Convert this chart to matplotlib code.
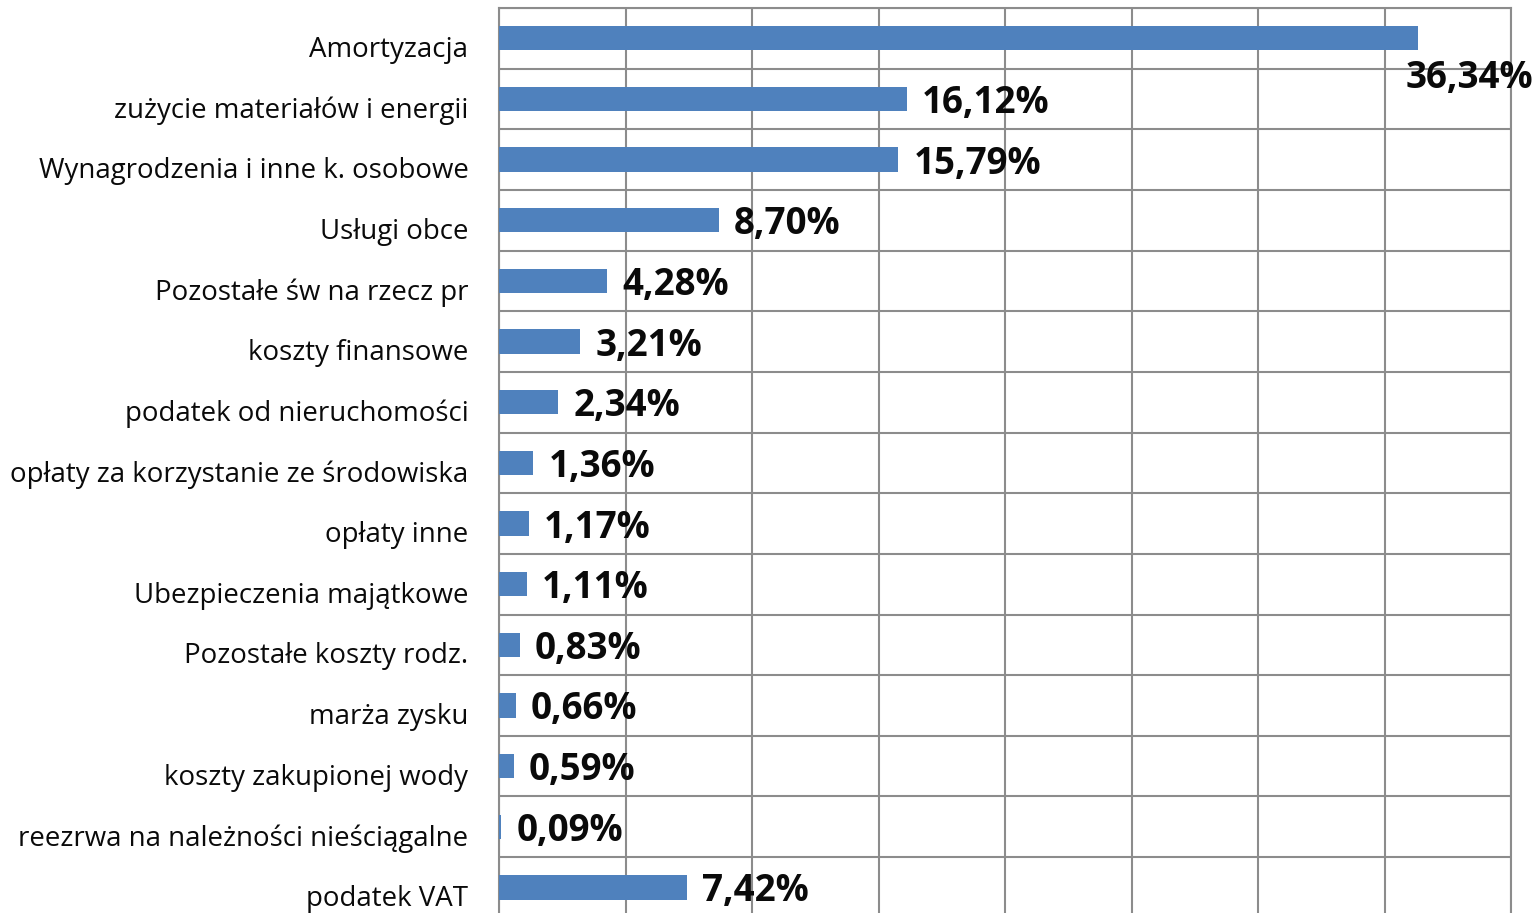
import matplotlib
matplotlib.use("Agg")
import matplotlib.pyplot as plt
import matplotlib.transforms as mtransforms
import numpy as np

categories = [
    "Amortyzacja",
    "zużycie materiałów i energii",
    "Wynagrodzenia i inne k. osobowe",
    "Usługi obce",
    "Pozostałe św na rzecz pr",
    "koszty finansowe",
    "podatek od nieruchomości",
    "opłaty za korzystanie ze środowiska",
    "opłaty inne",
    "Ubezpieczenia majątkowe",
    "Pozostałe koszty rodz.",
    "marża zysku",
    "koszty zakupionej wody",
    "reezrwa na należności nieściągalne",
    "podatek VAT",
]
values = [36.34, 16.12, 15.79, 8.70, 4.28, 3.21, 2.34, 1.36, 1.17, 1.11, 0.83, 0.66, 0.59, 0.09, 7.42]
value_labels = ["36,34%", "16,12%", "15,79%", "8,70%", "4,28%", "3,21%", "2,34%", "1,36%",
                "1,17%", "1,11%", "0,83%", "0,66%", "0,59%", "0,09%", "7,42%"]

plt.rcParams['font.family'] = ['Open Sans', 'DejaVu Sans']

W, H = 1539, 913
fig = plt.figure(figsize=(W / 100, H / 100), dpi=100)
fig.patch.set_facecolor("white")

left = 499 / W
right = 1511 / W
top_px = 8
row_h = 60.65
n = len(categories)
bottom_px = top_px + row_h * n
ax = fig.add_axes([left, 1 - bottom_px / H, right - left, (bottom_px - top_px) / H])

y = np.arange(n)
ax.barh(y, values, height=0.4, color="#4F81BD", zorder=3)

ax.set_xlim(0, 40)
ax.set_ylim(n - 0.5, -0.5)

grid_col = "#8C8C8C"
ax.set_xticks(np.arange(0, 41, 5))
ax.set_xticklabels([])
ax.tick_params(axis="x", length=0)
ax.set_yticks(np.arange(-0.5, n, 1.0), minor=True)
ax.grid(True, axis="x", which="major", color=grid_col, linewidth=1.5, zorder=0)
ax.grid(True, axis="y", which="minor", color=grid_col, linewidth=1.5, zorder=0)
ax.tick_params(axis="y", which="minor", length=0)
for s in ax.spines.values():
    s.set_color(grid_col)
    s.set_linewidth(1.5)

ax.set_yticks(y)
ax.set_yticklabels(categories, fontsize=19.9, color="#0A0A0A")
ax.tick_params(axis="y", which="major", length=0, pad=22)
shift = mtransforms.ScaledTranslation(0, -8 / 100, fig.dpi_scale_trans)
for lab in ax.get_yticklabels():
    lab.set_transform(lab.get_transform() + shift)

for i, (v, t) in enumerate(zip(values, value_labels)):
    if i == 0:
        ax.annotate(t, xy=(v, i), xytext=(-13, -40), textcoords="offset pixels",
                    ha="left", va="center", fontsize=26.5, fontweight="bold",
                    color="#0A0A0A", annotation_clip=False, zorder=4)
    else:
        ax.annotate(t, xy=(v, i), xytext=(15, -4), textcoords="offset pixels",
                    ha="left", va="center", fontsize=26.5, fontweight="bold",
                    color="#0A0A0A", annotation_clip=False, zorder=4)

fig.savefig("out.png", dpi=100, facecolor="white")
